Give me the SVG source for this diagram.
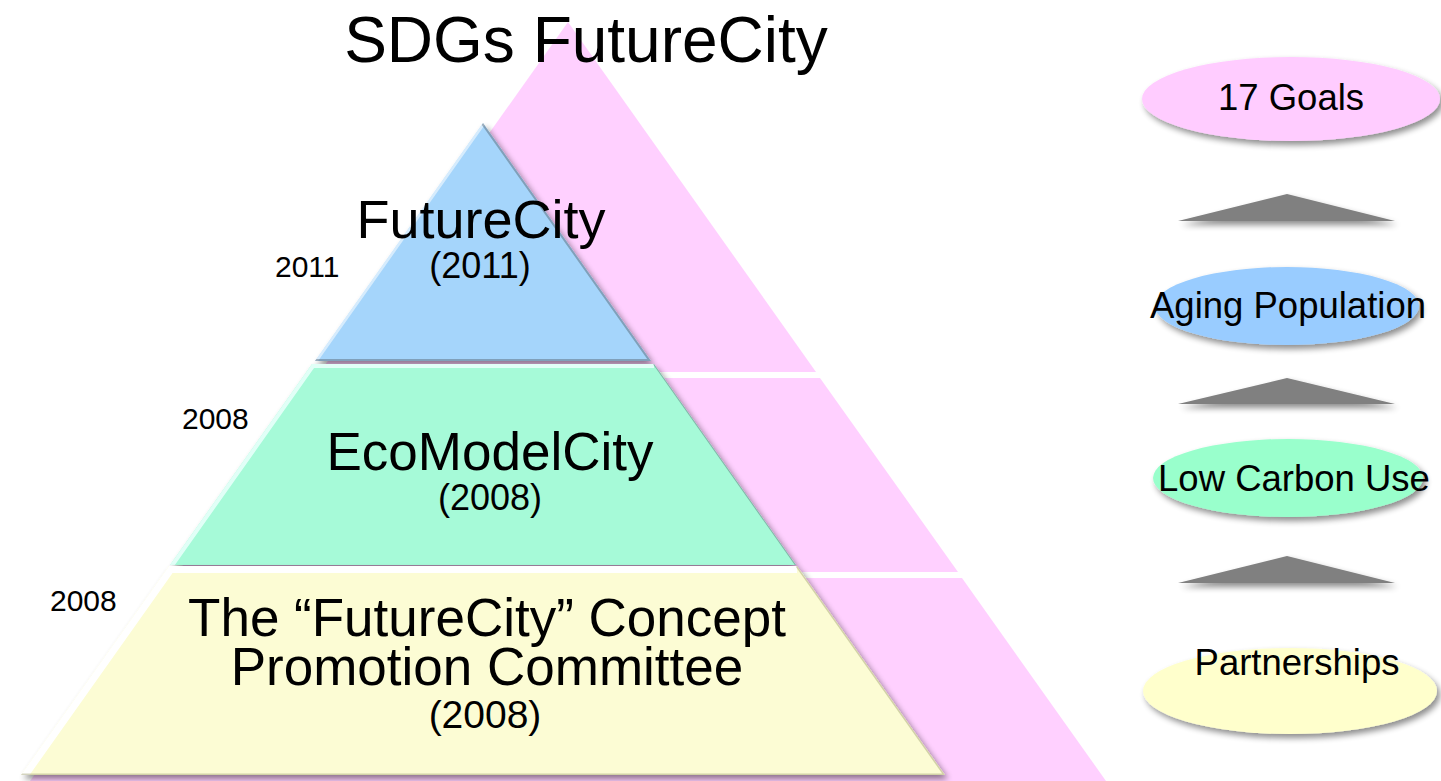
<svg xmlns="http://www.w3.org/2000/svg" width="1441" height="781" viewBox="0 0 1441 781">
<defs>
<style>
text{font-family:"Liberation Sans",Arial,sans-serif;fill:#000}
.pink{fill:#FFD0FF}
.lbl{font-size:30px}
.big{font-size:53px;text-anchor:middle}
.yr{font-size:36px;text-anchor:middle}
.el{font-size:36.5px;text-anchor:middle}
.arrow{fill:#808080}
.hl{fill:none;stroke:#ffffff;stroke-opacity:0.55;stroke-width:5}
.dk{fill:none;stroke:#55606a;stroke-opacity:0.45;stroke-width:2}
</style>
<filter id="sh" x="-10%" y="-10%" width="125%" height="130%">
<feGaussianBlur in="SourceAlpha" stdDeviation="3"/>
<feOffset dx="3" dy="4" result="b"/>
<feComponentTransfer><feFuncA type="linear" slope="0.45"/></feComponentTransfer>
<feMerge><feMergeNode/><feMergeNode in="SourceGraphic"/></feMerge>
</filter>
<clipPath id="cBlue"><polygon points="483,123 651,361 315,361"/></clipPath>
<clipPath id="cGreen"><polygon points="312,364 654,364 796,565 170,565"/></clipPath>
<clipPath id="cYellow"><polygon points="169,566 797,566 945,775 21,775"/></clipPath>
</defs>

<g id="pink-pyramid">
<polygon class="pink" points="568,22 816,372 320,372"/>
<polygon class="pink" points="316,378 820,378 958,572 178,572"/>
<polygon class="pink" points="174,578 962,578 1106,781 30,781"/>
</g>

<text id="title" x="586" y="62" style="font-size:64px;text-anchor:middle">SDGs FutureCity</text>

<g id="node-futurecity" filter="url(#sh)">
<polygon points="483,123 651,361 315,361" fill="#A5D5FB"/>
<g clip-path="url(#cBlue)">
<polyline class="hl" points="315,361 483,123"/>
<polyline class="dk" points="483,123 651,361 315,361" style="stroke-width:4"/>
</g>
</g>
<g id="node-ecomodelcity" filter="url(#sh)">
<polygon points="312,364 654,364 796,565 170,565" fill="#A6FAD8"/>
<g clip-path="url(#cGreen)">
<polyline class="hl" points="170,565 312,364 654,364" style="stroke:#e8fffb;stroke-opacity:0.9;stroke-width:8"/>
<polyline class="dk" points="654,364 796,565"/>
</g>
</g>
<g id="node-committee" filter="url(#sh)">
<polygon points="169,566 797,566 945,775 21,775" fill="#FCFCD4"/>
<g clip-path="url(#cYellow)">
<polyline class="hl" points="21,775 169,566 797,566" style="stroke-opacity:1;stroke-width:14"/>
<polyline class="dk" points="797,566 945,775 21,775" style="stroke:#a0a070;stroke-width:3"/>
</g>
</g>

<text class="big" x="481" y="238" style="font-size:54px">FutureCity</text>
<text class="yr" x="480" y="278">(2011)</text>
<text class="big" x="490" y="470">EcoModelCity</text>
<text class="yr" x="490" y="510">(2008)</text>
<text class="big" x="487" y="636"><tspan x="487" y="636">The “FutureCity” Concept</tspan><tspan x="487" y="685">Promotion Committee</tspan></text>
<text class="yr" x="485" y="728" style="font-size:39px">(2008)</text>

<text class="lbl" x="275" y="277">2011</text>
<text class="lbl" x="182" y="429">2008</text>
<text class="lbl" x="50" y="611">2008</text>

<g id="node-17goals" filter="url(#sh)">
<ellipse cx="1291" cy="99" rx="149" ry="42" fill="#FFCCFF"/>
</g>
<text class="el" x="1291" y="110">17 Goals</text>

<g id="node-aging" filter="url(#sh)">
<ellipse cx="1287" cy="306" rx="132" ry="39" fill="#99CCFF"/>
</g>
<text class="el" x="1288" y="318">Aging Population</text>

<g id="node-lowcarbon" filter="url(#sh)">
<ellipse cx="1288" cy="478" rx="135" ry="39" fill="#99FFCC"/>
</g>
<text class="el" x="1294" y="491">Low Carbon Use</text>

<g id="node-partnerships" filter="url(#sh)">
<ellipse cx="1290" cy="691" rx="147" ry="43" fill="#FFFFCC"/>
</g>
<text class="el" x="1297" y="675">Partnerships</text>

<g id="connectors" filter="url(#sh)">
<polygon class="arrow" points="1287,194 1395,221 1178,221"/>
<polygon class="arrow" points="1287,378 1395,404 1178,404"/>
<polygon class="arrow" points="1287,556 1395,583 1178,583"/>
</g>
</svg>
